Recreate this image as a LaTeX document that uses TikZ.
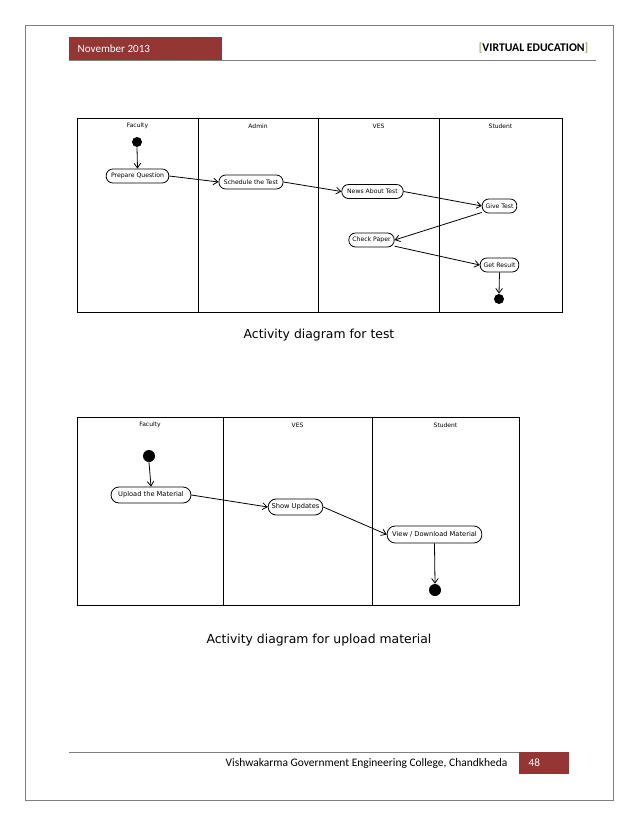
\documentclass[tikz,border=0pt]{standalone}
\usepackage{fontspec}
\setmainfont{Carlito}
\newfontfamily\umlfont{DejaVu Sans}
\usepackage{xcolor}
\usepackage{tikz}
\usetikzlibrary{arrows.meta, positioning}

\definecolor{headred}{HTML}{943634}
\definecolor{bracketgreen}{HTML}{76923C}
\definecolor{pagegrey}{HTML}{7F7F7F}

\begin{document}
\begin{tikzpicture}[
  x=0.75pt, y=-0.75pt,
  lane/.style={
    draw=black,
    line width=0.75pt
  },
  lanelabel/.style={
    font=\umlfont\fontsize{4.5}{5}\selectfont,
    inner sep=0pt
  },
  action/.style={
    draw=black,
    fill=white,
    rounded corners=5pt,
    line width=0.6pt,
    inner sep=1pt,
    font=\umlfont\fontsize{4.6}{5}\selectfont,
    minimum height=10.5pt
  },
  bigaction/.style={
    action,
    rounded corners=6pt,
    minimum height=12pt,
    font=\umlfont\fontsize{5}{6}\selectfont
  },
  dot/.style={
    circle,
    fill=black,
    inner sep=0pt,
    minimum size=7.5pt
  },
  arrow/.style={
    draw=black,
    -{Straight Barb[length=3.5pt, width=5pt]},
    line width=0.6pt
  },
  caption/.style={
    font=\umlfont\fontsize{9.3}{11}\selectfont
  }
]
\useasboundingbox (0,0) rectangle (638,826);

% Page frame
\draw[pagegrey, line width=0.75pt] (25,25) rectangle (613,800);

% Header
\fill[headred] (69,37) rectangle (222,60);
\draw[pagegrey, line width=0.6pt] (69,60) -- (596,60);
\node[anchor=west, text=white, font=\fontsize{8.3}{10}\selectfont] (month) at (73,49)
{November 2013};
\node[anchor=east, font=\fontsize{8.8}{10}\selectfont] (title) at (593,48.5)
{\textcolor{bracketgreen}{[}\textbf{VIRTUAL EDUCATION}\textcolor{bracketgreen}{]}};

% Diagram 1: lanes
\draw[lane] (77,118) rectangle (562,312);
\draw[lane] (198,118) -- (198,312);
\draw[lane] (318,118) -- (318,312);
\draw[lane] (439,118) -- (439,312);

\node[lanelabel] (faculty1) at (137.5,126) {Faculty};
\node[lanelabel] (admin1) at (258,126) {Admin};
\node[lanelabel] (ves1) at (378.5,126) {VES};
\node[lanelabel] (student1) at (500.5,126) {Student};

% Diagram 1: nodes
\node[dot] (start1) at (137,142) {};
\node[action, minimum width=47pt] (prepare) at (137.5,176) {Prepare Question};
\node[action, minimum width=48pt] (schedule) at (251,182) {Schedule the Test};
\node[action, minimum width=46pt] (news) at (372.5,191.5) {News About Test};
\node[action, minimum width=26pt] (give) at (499.5,206) {Give Test};
\node[action, minimum width=34pt] (check) at (371.5,240) {Check Paper};
\node[action, minimum width=29pt] (result) at (499.5,265) {Get Result};
\node[dot] (end1) at (499,299) {};

% Diagram 1: arrows
\draw[arrow] (start1.south) -- (prepare.north);
\draw[arrow] (prepare.east) -- (schedule.west);
\draw[arrow] (schedule.east) -- (news.west);
\draw[arrow] (news.east) -- (give.west);
\draw[arrow] (give.200) -- (check.east);
\draw[arrow] (check.-15) -- (result.west);
\draw[arrow] (result.south) -- (end1.north);

\node[caption] (cap1) at (319,335) {Activity diagram for test};

% Diagram 2: lanes
\draw[lane] (77,417) rectangle (519,605);
\draw[lane] (223,417) -- (223,605);
\draw[lane] (372,417) -- (372,605);

\node[lanelabel] (faculty2) at (150,425) {Faculty};
\node[lanelabel] (ves2) at (297.5,425) {VES};
\node[lanelabel] (student2) at (445.5,425) {Student};

% Diagram 2: nodes
\node[dot, minimum size=9pt] (start2) at (149,456) {};
\node[bigaction, minimum width=60pt] (upload) at (151,495) {Upload the Material};
\node[bigaction, minimum width=41pt] (updates) at (295.5,507) {Show Updates};
\node[bigaction, minimum width=71pt, minimum height=12.75pt] (view) at (434.5,534.5) {View / Download Material};
\node[dot, minimum size=9pt] (end2) at (435,590) {};

% Diagram 2: arrows
\draw[arrow] (start2.south) -- (upload.north);
\draw[arrow] (upload.east) -- (updates.west);
\draw[arrow] (updates.east) -- (view.west);
\draw[arrow] (view.south) -- (end2.north);

\node[caption] (cap2) at (319,640) {Activity diagram for upload material};

% Footer
\draw[pagegrey, line width=0.6pt] (69,752) -- (519,752);
\fill[headred] (519,752) rectangle (569,774);
\node[anchor=east, font=\fontsize{8.6}{10}\selectfont] (college) at (512,763)
{Vishwakarma Government Engineering College, Chandkheda};
\node[anchor=west, text=white, font=\fontsize{8.4}{10}\selectfont] (page) at (524,763)
{48};

\end{tikzpicture}
\end{document}
